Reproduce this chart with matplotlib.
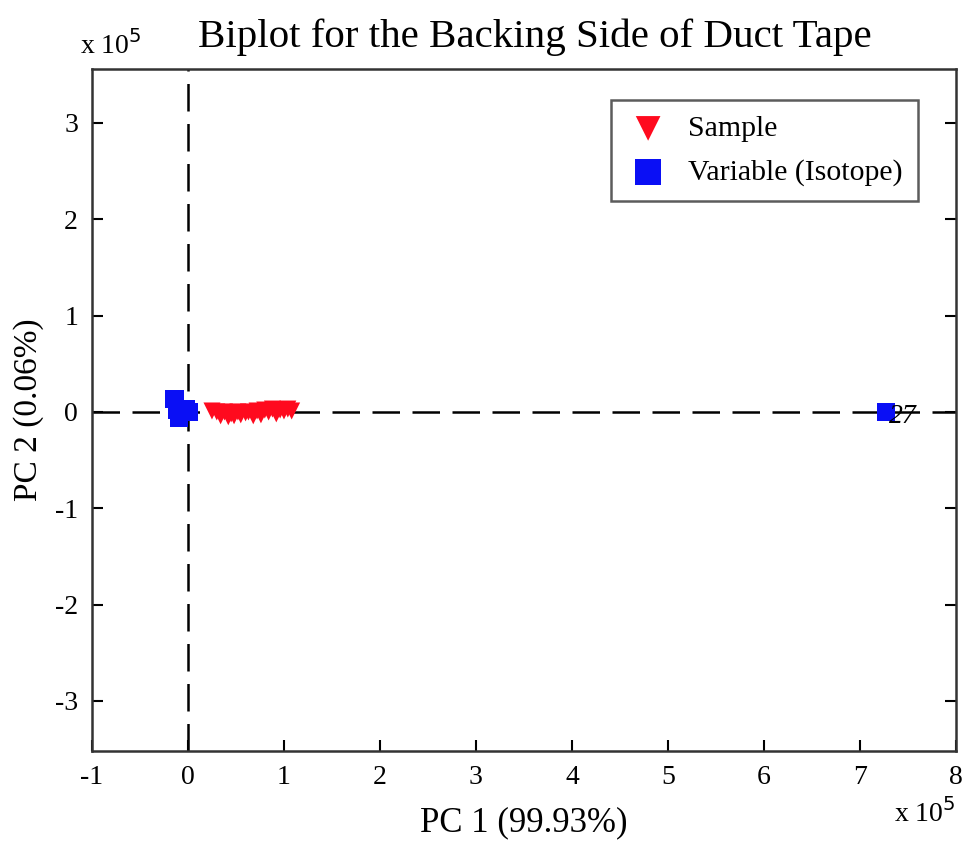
import numpy as np
import matplotlib
matplotlib.use("Agg")
import matplotlib.pyplot as plt

plt.rcParams['font.family'] = ['Liberation Serif', 'DejaVu Serif']
plt.rcParams['axes.unicode_minus'] = False

# scores (samples), in units of 1e5
sample_pc1 = [0.25, 0.30, 0.34, 0.38, 0.42, 0.45, 0.48, 0.52, 0.55, 0.60, 0.63,
              0.68, 0.72, 0.76, 0.80, 0.84, 0.88, 0.92, 0.96, 1.00, 1.04, 1.08]
sample_pc2 = [0.01, 0.00, -0.04, 0.00, -0.05, -0.02, -0.04, 0.00, -0.03, -0.01, 0.00,
              -0.04, 0.01, -0.03, 0.02, 0.00, 0.03, -0.02, 0.02, 0.01, 0.03, 0.01]

# loadings (variables / isotopes), in units of 1e5
var_pc1 = [-0.14, -0.11, -0.09, 0.01, -0.02, 7.27]
var_pc2 = [0.13, 0.02, -0.06, 0.00, 0.03, 0.00]
var_labels = ['', '', '', '', '', '27']

fig = plt.figure(figsize=(9.64, 8.44), dpi=100)
ax = fig.add_axes([0.0954, 0.1102, 0.8963, 0.8080])

ax.axhline(0, color='black', lw=1.8, ls=(0, (11, 5)), zorder=1)
ax.axvline(0, color='black', lw=1.8, ls=(0, (11, 5)), zorder=1)

ax.scatter(sample_pc1, sample_pc2, marker='v', s=150, color='#ff0a1e',
           edgecolors='none', zorder=3, label='Sample')
ax.scatter(var_pc1, var_pc2, marker='s', s=170, color='#0a0ff5',
           edgecolors='none', zorder=4, label='Variable (Isotope)')
for x, y, t in zip(var_pc1, var_pc2, var_labels):
    if t:
        ax.text(x + 0.03, y - 0.05, t, fontsize=20, va='center', ha='left',
                style='italic', zorder=5)

ax.set_xlim(-1, 8)
ax.set_ylim(-3.52, 3.56)
ax.set_xticks(range(-1, 9))
ax.set_yticks(range(-3, 4))
ax.tick_params(direction='in', top=False, right=True, labelsize=20,
               length=8, width=1.5, pad=10)
for sp in ax.spines.values():
    sp.set_linewidth(1.8)
    sp.set_color('#333333')

ax.set_title('Biplot for the Backing Side of Duct Tape', fontsize=29.5, pad=16, x=0.512)
ax.set_xlabel('PC 1 (99.93%)', fontsize=25, labelpad=12)
ax.set_ylabel('PC 2 (0.06%)', fontsize=24, labelpad=8)

fig.text(0.083, 0.947, r'x 10$^5$', fontsize=20, ha='left', va='center')
fig.text(0.927, 0.037, r'x 10$^5$', fontsize=20, ha='left', va='center')

leg = ax.legend(loc='upper right', bbox_to_anchor=(0.956, 0.954), fontsize=21.5,
                frameon=True, fancybox=False, edgecolor='#333333',
                handletextpad=0.6, borderpad=0.5, labelspacing=0.55,
                markerscale=1.45, handlelength=1.5, borderaxespad=0)
leg.get_frame().set_linewidth(1.8)

fig.savefig('out.png', dpi=100)
